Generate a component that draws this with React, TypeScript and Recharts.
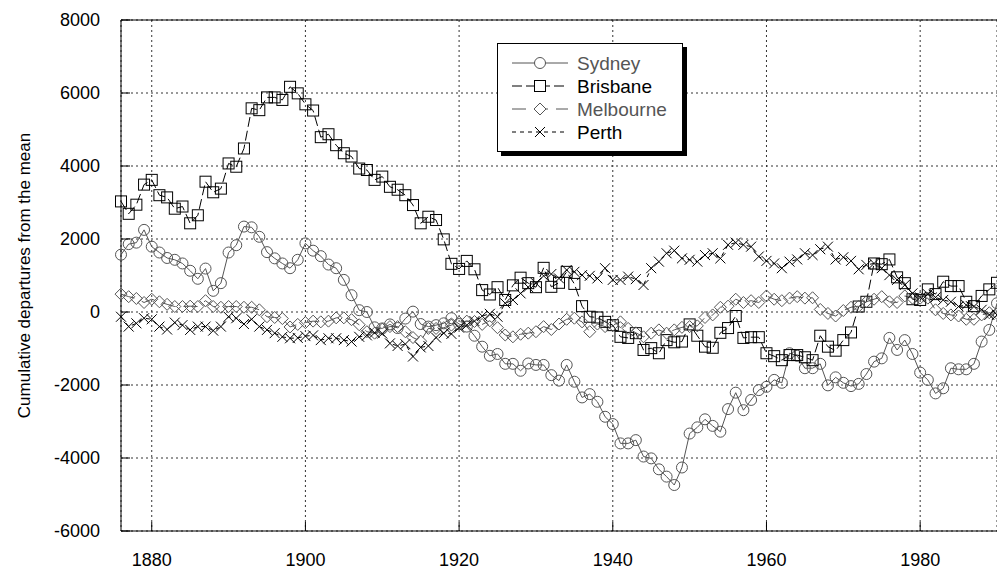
import React from 'react'
import { LineChart, Line, XAxis, YAxis, CartesianGrid, Legend, ReferenceLine } from 'recharts'

const FONT = '"Liberation Sans", Arial, sans-serif'
const GRAY = '#555'

// one value per year, 1876 .. 1990
const FIRST_YEAR = 1876
const years = Array.from({ length: 115 }, (_, i) => FIRST_YEAR + i)

const sydney = [
  1570, 1860, 1900, 2250, 1790, 1630, 1480, 1430, 1330, 1130,
  910, 1190, 580, 790, 1630, 1830, 2340, 2320, 2060, 1640,
  1470, 1330, 1200, 1430, 1880, 1680, 1530, 1300, 1200, 880,
  460, 50, 0, -420, -450, -340, -440, -180, 10, -330,
  -400, -360, -310, -170, -330, -400, -650, -950, -1200, -1150,
  -1420, -1420, -1610, -1410, -1450, -1450, -1730, -1880, -1450, -1910,
  -2340, -2250, -2460, -2870, -3070, -3600, -3600, -3510, -3960, -4010,
  -4310, -4510, -4740, -4260, -3330, -3160, -2940, -3120, -3280, -2660,
  -2210, -2690, -2410, -2140, -2050, -1860, -1940, -1130, -1200, -1540,
  -1540, -1420, -2010, -1790, -1940, -2030, -1970, -1700, -1360, -1270,
  -710, -1040, -770, -1150, -1660, -1860, -2230, -2090, -1540, -1570,
  -1570, -1420, -810, -490, 240,
]

const brisbane = [
  3030, 2690, 2940, 3490, 3620, 3200, 3140, 2830, 2890, 2430,
  2650, 3570, 3280, 3380, 4070, 3980, 4480, 5580, 5530, 5880,
  5880, 5810, 6170, 5990, 5690, 5520, 4790, 4870, 4570, 4350,
  4260, 3930, 3890, 3620, 3710, 3430, 3350, 3200, 2930, 2430,
  2610, 2520, 1990, 1320, 1180, 1400, 1170, 600, 480, 680,
  330, 730, 940, 790, 680, 1210, 690, 800, 1100, 770,
  160, -130, -150, -270, -360, -680, -710, -580, -1040, -990,
  -1130, -770, -830, -810, -340, -650, -950, -980, -570, -440,
  -110, -710, -690, -690, -1130, -1210, -1320, -1180, -1180, -1240,
  -1320, -650, -950, -1060, -770, -560, 150, 280, 1330, 1310,
  1440, 950, 790, 350, 330, 620, 490, 830, 710, 710,
  280, 160, 440, 620, 800,
]

const melbourne = [
  490, 420, 370, 260, 350, 280, 210, 150, 150, 160,
  150, 310, 150, 130, 150, 150, 130, 130, 60, -130,
  -150, -180, -410, -340, -290, -250, -270, -250, -160, -160,
  -210, -350, -540, -580, -470, -400, -400, -540, -700, -800,
  -450, -450, -430, -360, -280, -250, -260, -340, -240, -430,
  -630, -680, -610, -580, -540, -400, -480, -330, -200, -170,
  -270, -540, -330, -400, -360, -270, -450, -570, -680, -580,
  -490, -580, -490, -420, -400, -380, -150, -80, 130, 160,
  350, 260, 310, 260, 440, 350, 310, 380, 420, 380,
  390, 70, -40, -110, 40, 130, 160, 280, 350, 420,
  280, 260, 440, 380, 380, 380, 60, -40, -80, -110,
  -200, -200, -80, -20, -40,
]

const perth = [
  -130, -400, -310, -170, -200, -400, -480, -290, -360, -490,
  -400, -400, -510, -400, -130, -170, -330, -200, -400, -490,
  -580, -680, -720, -710, -660, -640, -770, -720, -720, -770,
  -810, -680, -640, -570, -590, -860, -930, -880, -1220, -970,
  -930, -700, -580, -600, -430, -360, -250, -110, -50, -130,
  240, 330, 510, 680, 790, 990, 1040, 920, 1150, 1100,
  1010, 990, 920, 1200, 880, 880, 970, 900, 740, 1200,
  1380, 1610, 1680, 1470, 1430, 1380, 1560, 1610, 1470, 1840,
  1900, 1840, 1790, 1520, 1400, 1330, 1200, 1380, 1440, 1610,
  1560, 1720, 1790, 1440, 1500, 1400, 1170, 1290, 1330, 1200,
  1010, 880, 740, 510, 400, 490, 400, 330, 280, 150,
  190, 150, 60, -80, -80,
]

const xTicks = [1880, 1900, 1920, 1940, 1960, 1980]
const yTicks = [-6000, -4000, -2000, 0, 2000, 4000, 6000, 8000]

const rows = years.map((year, i) => ({
  year,
  sydney: sydney[i],
  brisbane: brisbane[i],
  melbourne: melbourne[i],
  perth: perth[i],
}))

const series = [
  { key: 'sydney', name: 'Sydney', color: GRAY, dash: undefined, kind: 'circle' },
  { key: 'brisbane', name: 'Brisbane', color: '#000', dash: '10 4', kind: 'square' },
  { key: 'melbourne', name: 'Melbourne', color: GRAY, dash: '14 8', kind: 'diamond' },
  { key: 'perth', name: 'Perth', color: '#000', dash: '4 4', kind: 'cross' },
]

function marker(kind, color, x, y, key, fill = 'none') {
  if (kind === 'circle') return <circle key={key} cx={x} cy={y} r={5.5} fill={fill} stroke={color} />
  if (kind === 'square') return <rect key={key} x={x - 5.5} y={y - 5.5} width={11} height={11} fill={fill} stroke={color} />
  if (kind === 'diamond')
    return <path key={key} d={`M${x},${y - 6}L${x + 6},${y}L${x},${y + 6}L${x - 6},${y}Z`} fill={fill} stroke={color} />
  const r = 5
  return <path key={key} d={`M${x - r},${y - r}L${x + r},${y + r}M${x - r},${y + r}L${x + r},${y - r}`} fill="none" stroke={color} />
}

function XTick({ x, y, payload }) {
  return (
    <g>
      <line x1={x} x2={x} y1={y} y2={y - 9} stroke="#000" />
      <text x={x} y={y + 35} textAnchor="middle" fontSize={18} fontFamily={FONT} fill="#000">
        {payload.value}
      </text>
    </g>
  )
}

function YTick({ x, y, payload }) {
  return (
    <g>
      <line x1={x} x2={x + 9} y1={y} y2={y} stroke="#000" />
      <text x={x - 21} y={y + 6} textAnchor="end" fontSize={18} fontFamily={FONT} fill="#000">
        {payload.value}
      </text>
    </g>
  )
}

function YTitle({ viewBox }) {
  const cy = viewBox.y + viewBox.height / 2
  return (
    <text x={24} y={cy} transform={`rotate(-90 24 ${cy})`} textAnchor="middle" dominantBaseline="central"
      fontSize={17} fontFamily={FONT} fill="#000">
      Cumulative departures from the mean
    </text>
  )
}

function LegendBox() {
  return (
    <div style={{ width: 186, height: 109, border: '1.5px solid #000', boxShadow: '4px 4px 0 #000',
      background: '#fff', boxSizing: 'border-box', fontFamily: FONT }}>
      <svg width={183} height={106} style={{ display: 'block' }}>
        {series.map((s, i) => {
          const y = 19 + i * 23
          return (
            <g key={s.key}>
              <line x1={14} x2={70} y1={y} y2={y} stroke={s.color} strokeDasharray={s.dash} />
              {marker(s.kind, s.color, 42, y, 'm', '#fff')}
              <text x={79} y={y} dominantBaseline="central" fontSize={19} fill={s.color}>{s.name}</text>
            </g>
          )
        })}
      </svg>
    </div>
  )
}

export default function App() {
  return (
    <div style={{ position: 'fixed', left: 0, top: 0, width: 997, height: 570, overflow: 'hidden', background: '#fff' }}>
      <LineChart width={1010} height={570} data={rows} margin={{ top: 20, right: 13, bottom: 9, left: 0 }}>
        <CartesianGrid stroke="#333" strokeDasharray="2 3" />
        <XAxis type="number" dataKey="year" domain={[1876, 1990]} ticks={xTicks} interval={0}
          height={30} tickSize={0} tickMargin={0} tickLine={false} axisLine={{ stroke: '#000' }} tick={<XTick />} />
        <YAxis type="number" domain={[-6000, 8000]} ticks={yTicks} interval={0} width={121}
          tickSize={0} tickMargin={0} tickLine={false} axisLine={{ stroke: '#000' }} tick={<YTick />}
          label={<YTitle />} />
        <ReferenceLine y={8000} stroke="#000" />
        {series.map((s) => (
          <Line key={s.key} type="linear" dataKey={s.key} name={s.name} stroke={s.color} strokeWidth={1}
            strokeDasharray={s.dash} isAnimationActive={false}
            dot={(p) => marker(s.kind, s.color, p.cx, p.cy, `${s.key}-${p.index}`)} activeDot={false} />
        ))}
        <Legend layout="horizontal" verticalAlign="middle" align="center" content={<LegendBox />}
          wrapperStyle={{ position: 'absolute', left: 497, top: 43, width: 186, height: 109 }} />
      </LineChart>
    </div>
  )
}
